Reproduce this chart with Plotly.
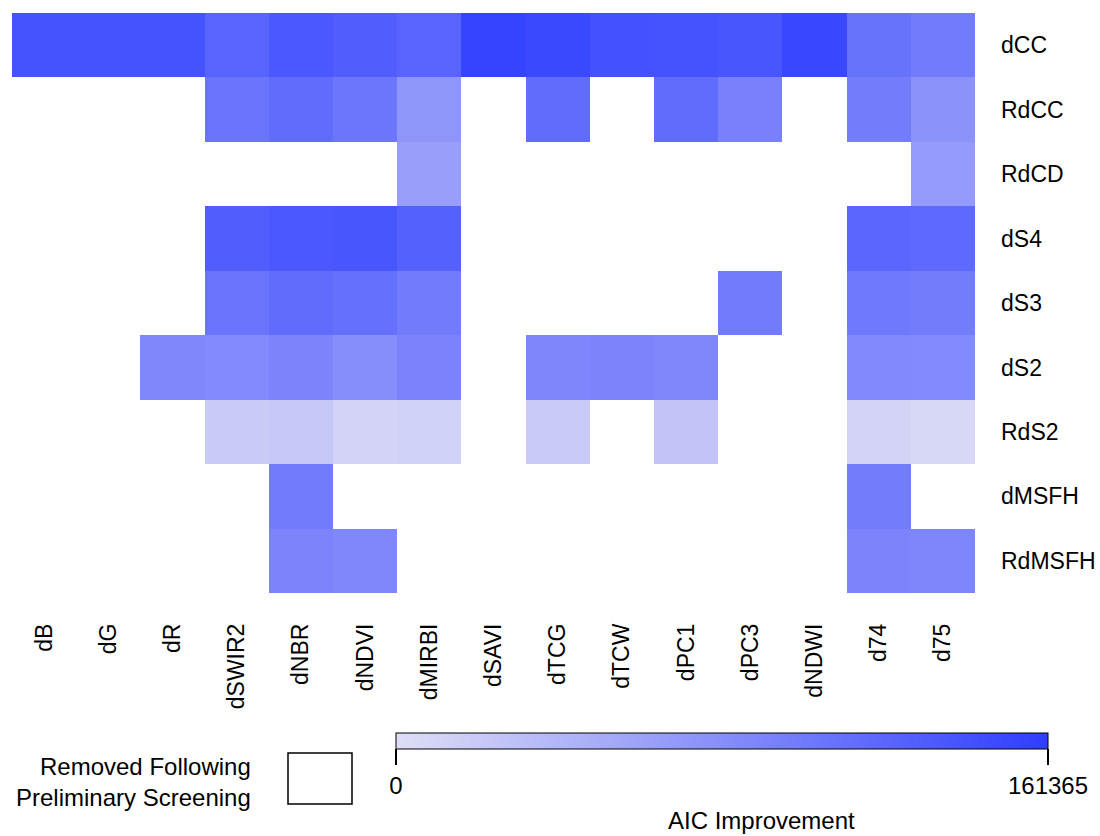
import plotly.graph_objects as go

columns = ["dB", "dG", "dR", "dSWIR2", "dNBR", "dNDVI", "dMIRBI", "dSAVI",
           "dTCG", "dTCW", "dPC1", "dPC3", "dNDWI", "d74", "d75"]
rows = ["dCC", "RdCC", "RdCD", "dS4", "dS3", "dS2", "RdS2", "dMSFH", "RdMSFH"]
N = None
dCC = [140400, 140400, 140400, 122600, 135500, 129100, 122600, 154900, 150100, 142000, 140400, 137200, 151700, 108100, 100000]
RdCC = [N, N, N, 106500, 114600, 104900, 72600, N, 114600, N, 114600, 93600, N, 98400, 75800]
RdCD = [N, N, N, N, N, N, 64500, N, N, N, N, N, N, N, 67800]
dS4 = [N, N, N, 129100, 135500, 137200, 125900, N, N, N, N, N, N, 121000, 117800]
dS3 = [N, N, N, 106500, 114600, 111300, 100000, N, N, N, N, 100000, N, 101700, 98400]
dS2 = [N, N, 87100, 83900, 90400, 80700, 92000, N, 88800, 90400, 87100, N, N, 85500, 83900]
RdS2 = [N, N, N, 19400, 22600, 11300, 12900, N, 19400, N, 25800, N, N, 11300, 6500]
dMSFH = [N, N, N, N, 100000, N, N, N, N, N, N, N, N, 98400, N]
RdMSFH = [N, N, N, N, 90400, 87100, N, N, N, N, N, N, N, 90400, 88800]
z_max = 161365
colorbar_ticks = [0, 161365]
colorbar_ticktext = ["0", "161365"]

z = [dCC, RdCC, RdCD, dS4, dS3, dS2, RdS2, dMSFH, RdMSFH]

FONT = "Liberation Sans, Arial, sans-serif"
W, H = 1100, 836
L, R, T, B = 12, 125, 13, 243
pw, ph = W - L - R, H - T - B

def px_x(x):
    return (x - L) / pw

def px_y(y):
    return (H - B - y) / ph

fig = go.Figure(go.Heatmap(
    z=z, x=columns, y=rows, zmin=0, zmax=z_max,
    colorscale=[[0, "rgb(222,222,246)"], [1, "rgb(46,62,255)"]],
    hoverongaps=False, xgap=0, ygap=0,
    colorbar=dict(
        orientation="h", lenmode="pixels", len=652, thickness=16,
        x=px_x(722), xanchor="center", y=px_y(733), yanchor="top",
        xpad=0, ypad=0, outlinecolor="black", outlinewidth=1,
        tickmode="array", tickvals=colorbar_ticks, ticktext=colorbar_ticktext,
        ticks="outside", ticklen=16, tickwidth=1.5, tickcolor="black",
        tickfont=dict(family=FONT, size=24, color="black"),
    ),
))

fig.update_layout(
    width=W, height=H,
    margin=dict(l=L, r=R, t=T, b=B, autoexpand=False),
    plot_bgcolor="white", paper_bgcolor="white",
    font=dict(family=FONT, size=23, color="black"),
    xaxis=dict(tickangle=-90, showgrid=False, zeroline=False, ticks="",
               ticklabelstandoff=25, tickfont=dict(size=23), fixedrange=True),
    yaxis=dict(side="right", autorange="reversed", showgrid=False, zeroline=False,
               ticks="", ticklabelstandoff=25, tickfont=dict(size=23), fixedrange=True),
    shapes=[dict(type="rect", xref="paper", yref="paper",
                 x0=px_x(288), x1=px_x(352), y0=px_y(804), y1=px_y(753),
                 line=dict(color="black", width=1.5), fillcolor="white")],
    annotations=[
        dict(text="Removed Following<br>Preliminary Screening", xref="paper", yref="paper",
             x=px_x(253), y=px_y(782), xanchor="right", yanchor="middle",
             align="right", showarrow=False, font=dict(family=FONT, size=24, color="black")),
        dict(text="AIC Improvement", xref="paper", yref="paper",
             x=px_x(761), y=px_y(820), xanchor="center", yanchor="middle",
             showarrow=False, font=dict(family=FONT, size=24, color="black")),
    ],
)

fig.write_html("out.html")
